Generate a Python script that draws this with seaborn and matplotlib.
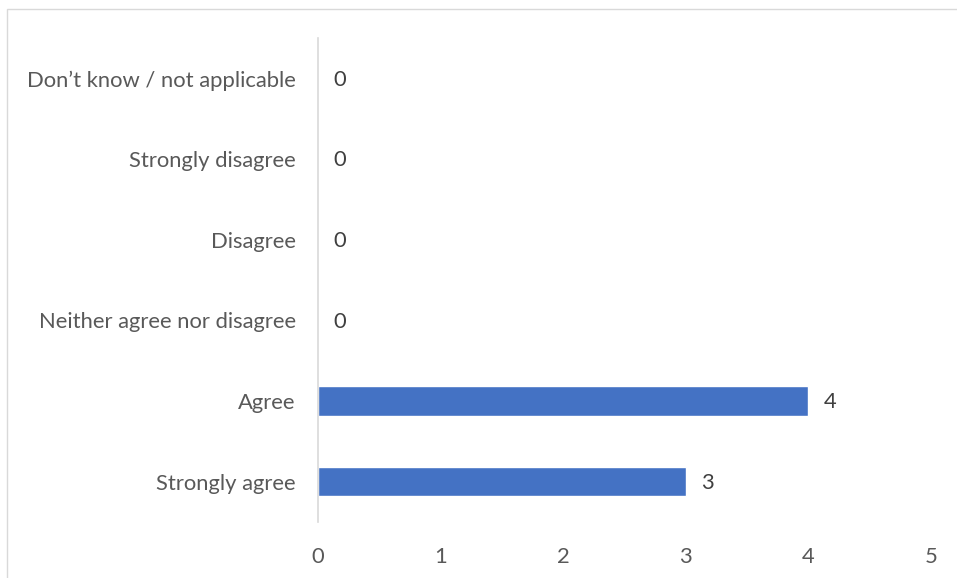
import matplotlib
matplotlib.use("Agg")
import matplotlib.pyplot as plt
import seaborn as sns
import pandas as pd
from matplotlib.patches import Rectangle

categories = ["Don\u2019t know / not applicable", "Strongly disagree", "Disagree",
              "Neither agree nor disagree", "Agree", "Strongly agree"]
values = [0, 0, 0, 0, 4, 3]
x_ticks = [0, 1, 2, 3, 4, 5]

df = pd.DataFrame({"category": categories, "count": values})

sns.set_theme(style="white")
plt.rcParams['font.family'] = ['Lato', 'DejaVu Sans']

fig = plt.figure(figsize=(9.57, 5.78), dpi=100)
ax = fig.add_axes([318/957, 1-522/578, (931-318)/957, (522-38)/578])

sns.barplot(data=df, x="count", y="category", order=categories, orient="h",
            color="#4472C4", width=0.36, ax=ax, saturation=1)

ax.set_xlim(0, 5)
ax.set_xticks(x_ticks)
ax.set_xticklabels([str(t) for t in x_ticks])
ax.set_xlabel("")
ax.set_ylabel("")
ax.tick_params(axis="both", length=0, labelsize=15.8, colors="#595959")
ax.tick_params(axis="x", pad=18)
ax.tick_params(axis="y", pad=16)

for s in ["top", "right", "bottom"]:
    ax.spines[s].set_visible(False)
ax.spines["left"].set_color("#D9D9D9")
ax.spines["left"].set_linewidth(1.2)

for i, v in enumerate(values):
    ax.annotate(str(v), xy=(v, i), xytext=(11, -1), textcoords="offset points",
                ha="left", va="center", fontsize=15.8, color="#404040")

fig.patches.append(Rectangle((7/957, -0.01), 1.0, 1-9/578 + 0.01,
                             transform=fig.transFigure, fill=False,
                             edgecolor="#D9D9D9", linewidth=1))

fig.savefig("out.png", dpi=100, facecolor="white")
